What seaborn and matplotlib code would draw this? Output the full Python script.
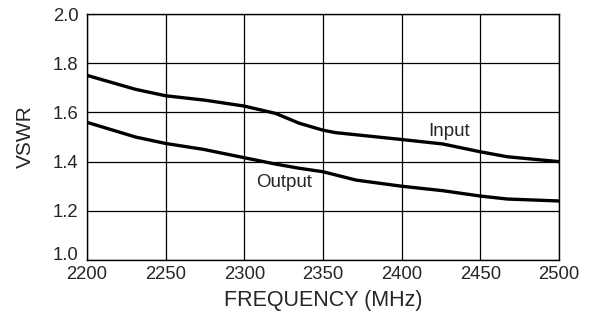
import matplotlib
matplotlib.use("Agg")
import matplotlib.pyplot as plt
import seaborn as sns
import pandas as pd

# values
freq_in = [2200, 2231, 2250, 2275, 2300, 2320, 2335, 2350, 2358, 2400, 2426, 2450, 2467, 2500]
vswr_in = [1.751, 1.694, 1.668, 1.650, 1.626, 1.596, 1.556, 1.528, 1.518, 1.490, 1.472, 1.440, 1.420, 1.400]
freq_out = [2200, 2231, 2250, 2274, 2300, 2320, 2335, 2350, 2371, 2400, 2426, 2450, 2467, 2500]
vswr_out = [1.560, 1.500, 1.474, 1.450, 1.416, 1.390, 1.373, 1.359, 1.325, 1.300, 1.282, 1.260, 1.248, 1.240]

x_ticks = [2200, 2250, 2300, 2350, 2400, 2450, 2500]
y_ticks = [1.0, 1.2, 1.4, 1.6, 1.8, 2.0]

df = pd.concat([
    pd.DataFrame({"freq": freq_in, "vswr": vswr_in, "port": "Input"}),
    pd.DataFrame({"freq": freq_out, "vswr": vswr_out, "port": "Output"}),
])

sns.set_style("white")
plt.rcParams['font.family'] = ['Liberation Sans', 'DejaVu Sans']

fig = plt.figure(figsize=(5.91, 3.14), dpi=100)
ax = fig.add_axes([0.147, 0.172, 0.799, 0.783])

sns.lineplot(data=df, x="freq", y="vswr", units="port", estimator=None,
             color="black", linewidth=2.4, legend=False, ax=ax)

ax.set_xlim(2200, 2500)
ax.set_ylim(1.0, 2.0)
ax.set_xticks(x_ticks)
ax.set_yticks(y_ticks)
ax.set_yticklabels([f"{v:.1f}" for v in y_ticks])
ax.grid(True, color="black", linewidth=0.9)
ax.tick_params(axis="x", length=0, labelsize=13.3, pad=4.5)
ax.tick_params(axis="y", length=0, labelsize=13.3, pad=6)
# bottom y label sits on the axis line, like the reference
ax.get_yticklabels()[0].set_verticalalignment("baseline")
for s in ax.spines.values():
    s.set_color("black")
    s.set_linewidth(1.0)

ax.text(2430, 1.504, "Input", ha="center", va="baseline", fontsize=13.5)
ax.text(2325, 1.298, "Output", ha="center", va="baseline", fontsize=13.5)

ax.set_xlabel("FREQUENCY (MHz)", fontsize=15.5, labelpad=5)
ax.set_ylabel("VSWR", fontsize=15, labelpad=13)

fig.savefig("out.png", dpi=100)
